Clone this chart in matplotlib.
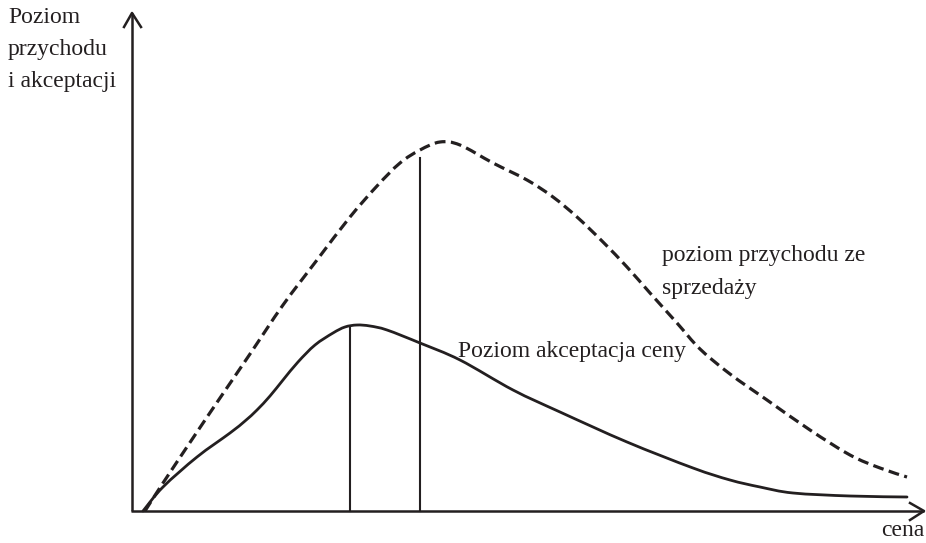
import matplotlib
matplotlib.use("Agg")
import matplotlib.pyplot as plt
from matplotlib.path import Path
from matplotlib.patches import PathPatch

plt.rcParams['font.family'] = ['Liberation Serif', 'DejaVu Serif']

# revenue curve (dashed) - price vs level
rev_x = [13, 31, 65, 88, 118, 151, 185, 218, 245, 268, 288, 308, 328, 361,
         395, 421, 445, 471, 495, 518, 545, 568, 598, 635, 678, 718, 748, 775]
rev_y = [0, 28, 79, 113, 157, 206, 251, 294, 325, 348, 361, 369, 366, 348,
         331, 314, 294, 269, 244, 218, 188, 162, 137, 111, 81, 56, 43, 34]

# price acceptance curve (solid)
acc_x = [11, 31, 65, 98, 113, 125, 138, 151, 166, 183, 201, 213, 225, 238,
         255, 288, 328, 381, 428, 495, 561, 598, 628, 661, 718, 775]
acc_y = [0, 24, 54, 78, 90, 101, 115, 131, 149, 166, 178, 184, 186, 185,
         181, 168, 151, 121, 99, 69, 43, 31, 24, 18, 15, 14]

# vertical markers: (price, height)
markers = [(218, 184), (288, 353)]

x_max = 792
y_max = 498

ylabel = "Poziom\nprzychodu\ni akceptacji"
xlabel = "cena"
rev_label = "poziom przychodu ze\nsprzedaży"
acc_label = "Poziom akceptacja ceny"


def smooth_path(xs, ys):
    # Catmull-Rom through the points, drawn as cubic Bezier segments
    pts = list(zip(xs, ys))
    n = len(pts)
    verts = [pts[0]]
    codes = [Path.MOVETO]
    for i in range(n - 1):
        p0 = pts[max(i - 1, 0)]
        p1 = pts[i]
        p2 = pts[i + 1]
        p3 = pts[min(i + 2, n - 1)]
        c1 = (p1[0] + (p2[0] - p0[0]) / 6, p1[1] + (p2[1] - p0[1]) / 6)
        c2 = (p2[0] - (p3[0] - p1[0]) / 6, p2[1] - (p3[1] - p1[1]) / 6)
        verts += [c1, c2, p2]
        codes += [Path.CURVE4] * 3
    return Path(verts, codes)


fig = plt.figure(figsize=(9.26, 5.43), dpi=100)
ax = fig.add_axes([0, 0, 1, 1])
ax.set_xlim(-132, 794)
ax.set_ylim(-32, 511)
ax.axis('off')

ink = '#231f20'

# axes with open arrow heads
ax.plot([-1, x_max], [0, 0], color=ink, lw=1.8, solid_capstyle='butt')
ax.plot([0, 0], [0, y_max], color=ink, lw=1.8, solid_capstyle='butt')
ax.plot([x_max - 14, x_max, x_max - 14], [8, 0, -9], color=ink, lw=1.8)
ax.plot([-8, 0, 9], [y_max - 14, y_max, y_max - 14], color=ink, lw=1.8)

ax.add_patch(PathPatch(smooth_path(rev_x, rev_y), fill=False, edgecolor=ink,
                       lw=2.3, linestyle=(0, (3.4, 1.7))))
ax.add_patch(PathPatch(smooth_path(acc_x, acc_y), fill=False, edgecolor=ink,
                       lw=2.0, capstyle='round'))

for mx, my in markers:
    ax.plot([mx, mx], [0, my], color=ink, lw=1.5)

ax.text(-124, 504, ylabel, fontsize=17, va='top', ha='left',
        linespacing=1.7, color=ink)
ax.text(x_max, -19, xlabel, fontsize=17, va='center', ha='right', color=ink)
ax.text(530, 239, rev_label, fontsize=17, va='center', ha='left',
        linespacing=1.7, color=ink)
ax.text(326, 159, acc_label, fontsize=17, va='center', ha='left', color=ink)

fig.savefig("out.png", dpi=100)
